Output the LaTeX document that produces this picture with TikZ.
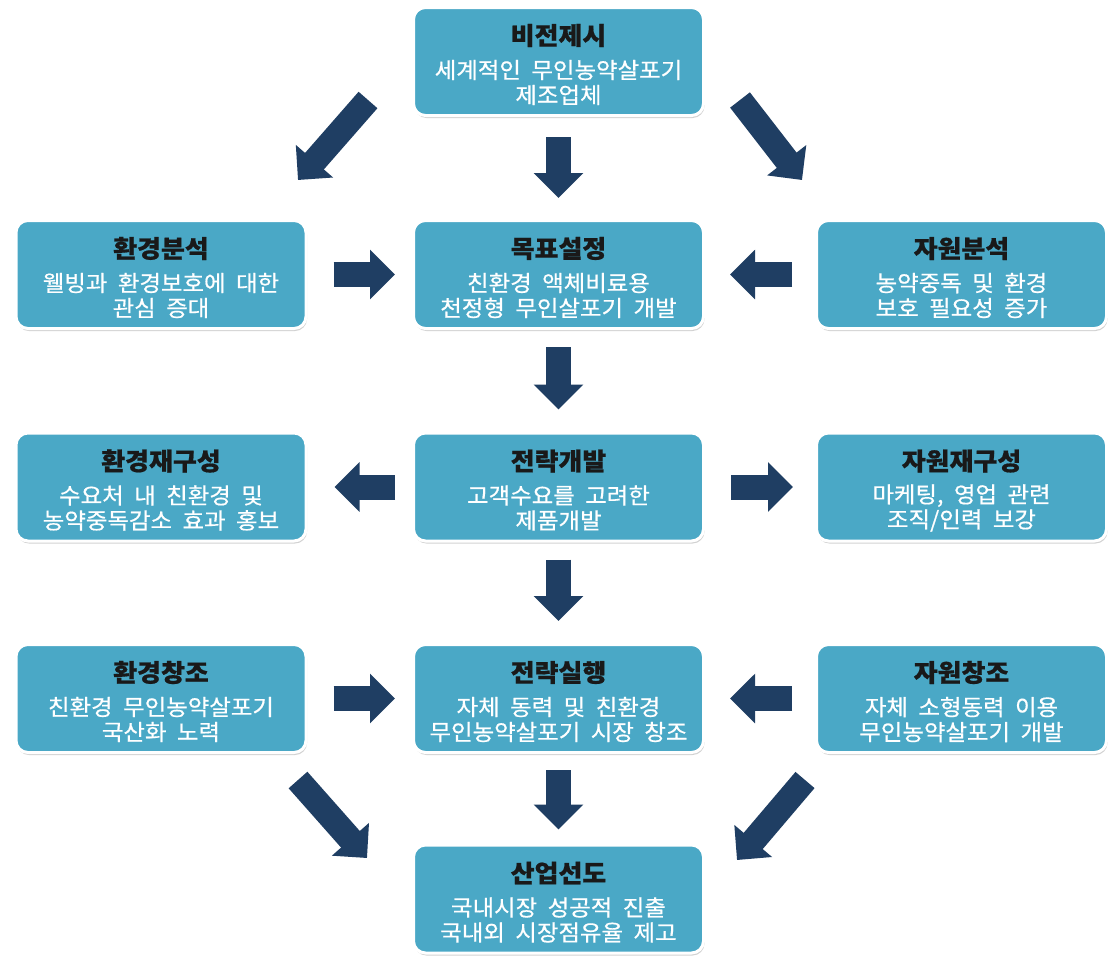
\documentclass[tikz,border=0pt]{standalone}
\usepackage{fontspec}
\setmainfont{Noto Sans CJK KR}[WordSpace=2.2]
\newfontfamily\subf{Noto Sans CJK KR}[WordSpace=2.0,FakeStretch=1.05,FakeBold=0.6]
\newfontfamily\ttlf{Noto Sans CJK KR}[FakeStretch=1.06,BoldFeatures={FakeBold=0.7}]
\usetikzlibrary{arrows.meta,shadows,calc}
\definecolor{boxfill}{RGB}{74,168,198}
\definecolor{navy}{RGB}{31,62,99}
\tikzset{
  box/.style={rounded corners=12pt, fill=boxfill, draw=white, line width=3pt,
    minimum width=290pt, minimum height=108pt, inner sep=0pt,
    drop shadow={shadow xshift=1pt,shadow yshift=-2.5pt,opacity=0.35}},
  ttl/.style={font=\ttlf\fontsize{24.5}{28}\selectfont\bfseries, text=black!90, inner sep=0pt},
  sub/.style={font=\subf\fontsize{22.3}{25}\selectfont, text=white, align=center, inner sep=0pt},
  bigarrow/.style={draw=navy, line width=25pt, -{Triangle[width=48pt,length=25pt]}},
}
\newcommand{\mybox}[6]{%
  \node[box] (#1) at (#2,#3) {};
  \node[ttl] (#1-t) at ($(#1.center)+(0,-26)$) {#4};
  \node[sub] (#1-s) at ($(#1.center)+(0,21)$) {#5\\#6};
}
\begin{document}
\begin{tikzpicture}[x=1pt,y=-1pt]
\fill[white] (0,0) rectangle (1110,959);
\useasboundingbox (0,0) rectangle (1110,959);

\mybox{vision}{558.5}{61.5}{비전제시}{세계적인 무인농약살포기}{제조업체}
\mybox{envA}{161}{274.5}{환경분석}{웰빙과 환경보호에 대한}{관심 증대}
\mybox{goal}{558.5}{274.5}{목표설정}{친환경 액체비료용}{천정형 무인살포기 개발}
\mybox{resA}{961.5}{274.5}{자원분석}{농약중독 및 환경}{보호 필요성 증가}
\mybox{envR}{161}{487}{환경재구성}{수요처 내 친환경 및}{농약중독감소 효과 홍보}
\mybox{strat}{558.5}{487}{전략개발}{고객수요를 고려한}{제품개발}
\mybox{resR}{961.5}{487}{자원재구성}{마케팅, 영업 관련}{조직/인력 보강}
\mybox{envC}{161}{698.5}{환경창조}{친환경 무인농약살포기}{국산화 노력}
\mybox{exec}{558.5}{698.5}{전략실행}{자체 동력 및 친환경}{무인농약살포기 시장 창조}
\mybox{resC}{961.5}{698.5}{자원창조}{자체 소형동력 이용}{무인농약살포기 개발}
\mybox{lead}{558.5}{899}{산업선도}{국내시장 성공적 진출}{국내외 시장점유율 제고}

% vertical arrows
\draw[bigarrow, shorten <=20pt, shorten >=21pt] (vision) -- (goal);
\draw[bigarrow, shorten <=17pt, shorten >=22pt] (goal) -- (strat);
\draw[bigarrow, shorten <=17pt, shorten >=22pt] (strat) -- (exec);
\draw[bigarrow, shorten <=16pt, shorten >=14pt] (exec) -- (lead);

% horizontal arrows
\draw[bigarrow, shorten <=26pt, shorten >=17pt] (envA) -- (goal);
\draw[bigarrow, shorten <=23pt, shorten >=25pt] (resA) -- (goal);
\draw[bigarrow, shorten <=17pt, shorten >=27pt] (strat) -- (envR);
\draw[bigarrow, shorten <=26pt, shorten >=22pt] (strat) -- (resR);
\draw[bigarrow, shorten <=26pt, shorten >=17pt] (envC) -- (exec);
\draw[bigarrow, shorten <=23pt, shorten >=25pt] (resC) -- (exec);

% diagonal arrows
\coordinate (d1s) at (368,100);
\coordinate (d1e) at (298,180);
\coordinate (d2s) at (740,100);
\coordinate (d2e) at (802,180);
\coordinate (d3s) at (298,780);
\coordinate (d3e) at (367,858);
\coordinate (d4s) at (805,780);
\coordinate (d4e) at (737,860);
\draw[bigarrow] (d1s) -- (d1e);
\draw[bigarrow] (d2s) -- (d2e);
\draw[bigarrow] (d3s) -- (d3e);
\draw[bigarrow] (d4s) -- (d4e);
\end{tikzpicture}
\end{document}
